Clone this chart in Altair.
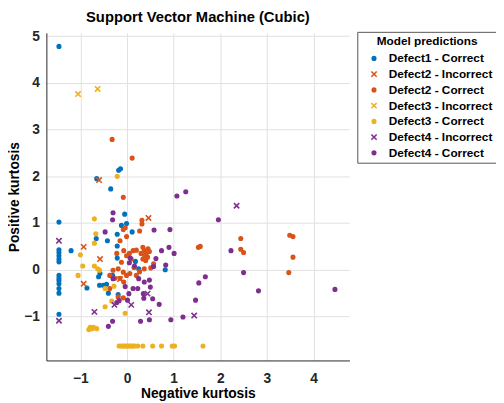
import altair as alt
import pandas as pd

categories = ["Defect1 - Correct", "Defect2 - Incorrect", "Defect2 - Correct",
              "Defect3 - Incorrect", "Defect3 - Correct", "Defect4 - Incorrect",
              "Defect4 - Correct"]
colors = ["#0072BD", "#D95319", "#D95319", "#EDB120", "#EDB120", "#7E2F8E", "#7E2F8E"]
XPATH = "M-1.5,-1.5L1.5,1.5M1.5,-1.5L-1.5,1.5"
shapes = ["circle", XPATH, "circle", XPATH, "circle", XPATH, "circle"]

d1_x = [-1.46, -0.65, -0.18, -0.14, -0.35, -1.46, -1.46, -1.46, -1.46, -1.46, -1.46, -1.46,
        -1.46, -1.46, -1.46, -1.46, -1.46, -1.46, -1.20, -0.66, -0.42, -0.21, -0.12, -0.01,
        -0.05, 0.11, -0.21, -0.21, 0.18, 0.25, 0.82, -0.61, -0.58, -0.59, -0.51, -0.44,
        -0.86, -0.40, -0.19, -0.31]
d1_y = [4.78, 1.95, 2.13, 2.16, 1.73, 1.02, 0.43, 0.37, 0.30, 0.23, 0.17, -0.12,
        -0.18, -0.23, -0.30, -0.40, -0.50, -0.95, 0.41, 0.67, 0.62, 0.76, 0.95, 0.99,
        1.19, 0.81, 0.51, 0.25, 0.18, 0.02, 0.00, -0.15, -0.08, -0.33, -0.33, -0.31,
        -0.39, -0.50, -0.53, -0.12]

d2i_x = [-0.60, 0.46, -0.93, -0.58, -0.93, -0.15]
d2i_y = [1.92, 1.11, 0.49, 0.23, -0.30, -0.20]

d2c_x = [-0.32, 0.11, -0.08, 0.32, 0.32, 0.27, -0.04, -0.08, -0.15, -0.01, -0.07, 0.13,
         0.20, 0.34, 0.37, 0.41, 0.44, 0.38, 0.48, 0.34, -0.01, 0.09, -0.12, -0.19,
         -0.08, -0.01, -0.15, -0.07, 0.06, 0.20, 0.27, 0.37, 0.51, 0.57, -0.26, -0.37,
         -0.30, -0.37, -0.19, -0.08, 1.53, 1.57, 2.44, 2.44, 2.50, 3.49, 3.56, 3.56,
         3.47, 0.45, 0.40, 0.30, -0.22, 0.15, 0.05]
d2c_y = [2.79, 2.39, 1.55, 1.06, 0.98, 0.83, 0.90, 0.86, 0.62, 0.71, 0.41, 0.41,
         0.42, 0.48, 0.41, 0.34, 0.27, 0.30, 0.39, 0.23, 0.30, 0.23, 0.16, 0.02,
         -0.05, -0.12, -0.18, -0.26, -0.08, -0.12, -0.04, 0.02, 0.04, 0.13, -0.18, -0.12,
         -0.01, -0.40, -0.58, -0.60, 0.48, 0.50, 0.67, 0.44, 0.37, 0.74, 0.71, 0.27,
         -0.06, 0.45, 0.20, 0.35, 0.35, 0.05, 0.35]

d3i_x = [-1.05, -0.63]
d3i_y = [3.76, 3.87]

d3c_x = [-0.21, -0.70, -0.67, -0.70, -1.00, -0.95, -1.05, -0.70, -0.63, -0.59, -0.47,
         -0.33, -0.47, -0.04, -0.79, -0.75, -0.82, -0.72, -0.65, -0.28,
         -0.17, -0.12, -0.08, -0.05, -0.01, 0.02, 0.06, 0.09, 0.13, 0.16, 0.23, 0.34,
         0.55, 0.74, 0.97, 1.02, 1.63]
d3c_y = [2.00, 1.09, 0.77, 0.57, 0.32, 0.08, -0.12, 0.08, 0.02, -0.01, -0.40,
         -0.67, -0.79, -0.93, -1.23, -1.26, -1.28, -1.23, -1.26, -0.35,
         -1.63, -1.63, -1.63, -1.63, -1.63, -1.63, -1.63, -1.63, -1.63, -1.63, -1.63, -1.63,
         -1.63, -1.63, -1.63, -1.63, -1.63]

d4i_x = [2.35, -1.46, -1.46, -0.70, -0.27, 0.09, 0.44, 0.47, 1.44]
d4i_y = [1.37, 0.62, -1.09, -0.90, -0.75, -0.75, -0.51, -0.91, -0.98]

d4c_x = [1.07, 1.26, 1.96, -0.30, -0.31, -0.47, 0.58, 0.92, 0.90, 1.01, 0.74, 2.23,
         2.50, 2.82, 4.46, 1.68, 1.54, 1.47, 1.20, 0.94, 0.29, 0.48, -0.31, -0.40,
         0.36, 0.55, 0.69, 0.50, 0.48, 0.35, 0.83, 0.62, 0.57, -0.30, -0.17, 0.01,
         0.07, 0.25, 0.23, -0.04, 0.04, 0.13, 0.16, 0.37, -0.22, 0.05]
d4c_y = [1.58, 1.67, 1.07, 1.22, 1.07, 0.81, 0.85, 0.86, 0.48, 0.35, 0.41, 0.41,
         -0.06, -0.45, -0.42, -0.15, -0.28, -0.65, -1.01, -1.07, -1.10, -1.07, -1.10, -1.21,
         -0.61, -0.62, -0.74, -0.37, -0.22, -0.51, 0.10, 0.24, 0.07, -0.19, -0.66, -0.65,
         0.25, -0.19, -0.40, -0.36, -0.51, -0.40, 0.08, -0.26, -0.70, 0.15]

x_lists = [d1_x, d2i_x, d2c_x, d3i_x, d3c_x, d4i_x, d4c_x]
y_lists = [d1_y, d2i_y, d2c_y, d3i_y, d3c_y, d4i_y, d4c_y]

rows = []
k = 0
for cat, xs, ys in zip(categories, x_lists, y_lists):
    for xv, yv in zip(xs, ys):
        rows.append({"cat": cat, "x": xv, "y": yv, "ord": k})
        k += 1
df = pd.DataFrame(rows)

FONT = "Liberation Sans"
leg = alt.Legend(title="Model predictions")

chart = alt.Chart(df).mark_point(filled=True, size=13, strokeWidth=1.6, opacity=1).encode(
    x=alt.X("x:Q", scale=alt.Scale(domain=[-1.73, 4.77], nice=False, zero=False),
            axis=alt.Axis(values=[-1, 0, 1, 2, 3, 4], title="Negative kurtosis",
                          labelPadding=11, titlePadding=2)),
    y=alt.Y("y:Q", scale=alt.Scale(domain=[-1.94, 5.07], nice=False, zero=False),
            axis=alt.Axis(values=[-1, 0, 1, 2, 3, 4, 5], title="Positive kurtosis",
                          labelPadding=7, titlePadding=2)),
    color=alt.Color("cat:N", scale=alt.Scale(domain=categories, range=colors),
                    sort=categories, legend=leg),
    stroke=alt.Stroke("cat:N", scale=alt.Scale(domain=categories, range=colors),
                      sort=categories, legend=leg),
    shape=alt.Shape("cat:N", scale=alt.Scale(domain=categories, range=shapes),
                    sort=categories, legend=leg),
    order=alt.Order("ord:Q"),
).properties(
    width=308, height=333,
    title=alt.Title("Support Vector Machine (Cubic)", font=FONT, fontSize=15,
                    fontWeight="bold", anchor="middle", offset=4, color="#000000"),
    autosize=alt.AutoSizeParams(type="none"),
    padding={"left": 39, "top": 22, "right": 149, "bottom": 40},
).configure_view(stroke=None).configure_axis(
    grid=True, gridColor="#e0e0e0", gridWidth=1, domainColor="#262626", domainWidth=1,
    ticks=False, labelFont=FONT, labelFontSize=14, labelFontWeight="bold",
    labelColor="#262626", titleFont=FONT, titleFontSize=14, titleFontWeight="bold",
    titleColor="#000000",
).configure_legend(
    orient="none", legendX=316, legendY=-1, padding=4, strokeColor="#555555",
    fillColor="#ffffff", labelFont=FONT, labelFontSize=12, labelFontWeight="bold",
    labelColor="#000000", titleFont=FONT, titleFontSize=12, titleFontWeight="bold",
    titleColor="#000000", titleAnchor="middle", titlePadding=5, rowPadding=4,
    labelOffset=9, symbolSize=13, symbolStrokeWidth=1.6, symbolOffset=7,
)

chart.save("out.html", embed_options={"renderer": "svg", "actions": False})
